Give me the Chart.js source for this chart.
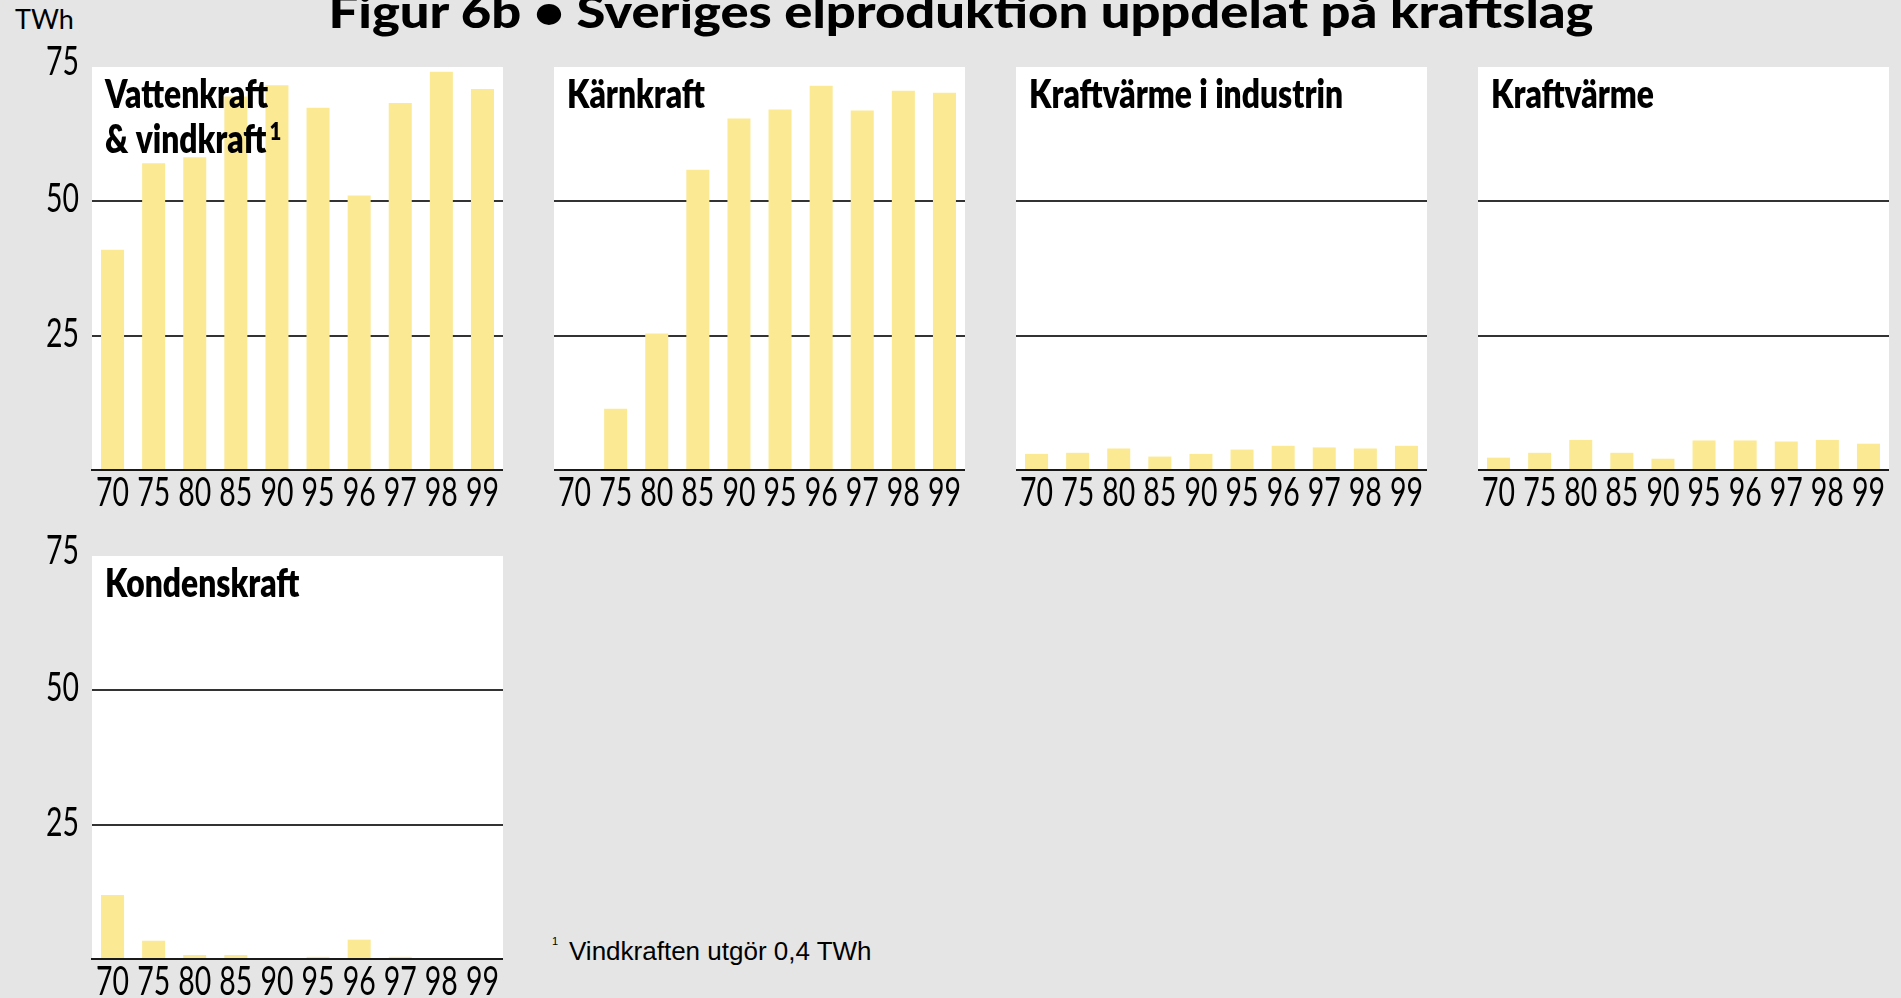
<!DOCTYPE html>
<html lang="sv">
<head>
<meta charset="utf-8">
<title>Figur 6b</title>
<script src="https://cdn.jsdelivr.net/npm/chart.js@4.4.1/dist/chart.umd.min.js"></script>
<style>
  html, body { margin: 0; padding: 0; }
  body {
    width: 1901px; height: 998px; overflow: hidden; position: relative;
    background: #e5e5e5; color: #000;
    font-family: Lato, 'Liberation Sans', sans-serif;
  }
  canvas { position: absolute; }
  .txt { position: absolute; white-space: nowrap; line-height: 1.2; }
  .bl { display: inline-block; width: 0; height: 0; vertical-align: baseline; }
  #titel { font-weight: 900; font-size: 46px; transform-origin: 50% 50%; }
  #enhet { font-size: 27px; }
  #fotnot { font-family: 'Liberation Sans', sans-serif; font-size: 26px; }
  #fotnr { font-family: 'Liberation Sans', sans-serif; font-size: 11px; }
</style>
</head>
<body>
<div class="txt" id="titel">Figur 6b • Sveriges elproduktion uppdelat på kraftslag<span class="bl"></span></div>
<div class="txt" id="enhet">TWh<span class="bl"></span></div>
<div class="txt" id="fotnr">1<span class="bl"></span></div>
<div class="txt" id="fotnot">Vindkraften utgör 0,4 TWh<span class="bl"></span></div>

<script>
// -------------------------
// Data (TWh)
// -------------------------
const ar = ['70', '75', '80', '85', '90', '95', '96', '97', '98', '99'];

const vattenkraft        = [41.0, 57.1, 58.2, 69.5, 71.6, 67.4, 51.1, 68.3, 74.1, 70.9];
const karnkraft          = [0, 11.4, 25.4, 55.9, 65.4, 67.1, 71.5, 66.9, 70.6, 70.2];
const kraftvarmeIndustri = [3.0, 3.2, 4.0, 2.5, 3.0, 3.8, 4.5, 4.2, 4.0, 4.5];
const kraftvarme         = [2.3, 3.2, 5.6, 3.2, 2.1, 5.5, 5.5, 5.3, 5.6, 4.9];
const kondenskraft       = [11.9, 3.4, 0.75, 0.75, 0.2, 0.4, 3.6, 0.4, 0.2, 0.2];

const yMax = 75;
const yTicks = [25, 50, 75];

// -------------------------
// Layout
// -------------------------
const PANEL_X = [92, 554, 1016, 1478];
const PANEL_Y = [67, 556];
const PANEL_W = 411;
const PANEL_H = 403;
const PAD_TOP = 30;
const X_H = 50;
const Y_W = 92;

const GUL = 'rgb(251, 233, 148)';
const TICK_FONT = '400 40px Lato, "Liberation Sans", sans-serif';
const RUBRIK_FONT = '800 39px Lato, "Liberation Sans", sans-serif';
const FOT_FONT = '800 25px Lato, "Liberation Sans", sans-serif';

const paneler = [
  { rubrik: ['Vattenkraft', '& vindkraft'], fot: '1', data: vattenkraft, kol: 0, rad: 0 },
  { rubrik: ['Kärnkraft'], data: karnkraft, kol: 1, rad: 0 },
  { rubrik: ['Kraftvärme i industrin'], data: kraftvarmeIndustri, kol: 2, rad: 0 },
  { rubrik: ['Kraftvärme'], data: kraftvarme, kol: 3, rad: 0 },
  { rubrik: ['Kondenskraft'], data: kondenskraft, kol: 0, rad: 1 }
];

// texten i förlagan är smal, så den pressas ihop i sidled
function smalFaktor(ctx, font, prov, bredd) {
  ctx.font = font;
  return bredd / ctx.measureText(prov).width;
}

// vit bakgrund i diagramytan
const vitYta = {
  id: 'vitYta',
  beforeDraw(chart) {
    const { ctx, chartArea: a } = chart;
    ctx.save();
    ctx.fillStyle = '#fff';
    ctx.fillRect(a.left, a.top, a.right - a.left, a.bottom - a.top);
    ctx.restore();
  }
};

// rubrik inne i panelen
const panelRubrik = {
  id: 'panelRubrik',
  afterDatasetsDraw(chart, args, opts) {
    const { ctx, chartArea: a } = chart;
    ctx.save();
    const k = smalFaktor(ctx, RUBRIK_FONT, 'Kärnkraft', 138);
    ctx.fillStyle = '#000';
    ctx.textBaseline = 'alphabetic';
    ctx.textAlign = 'left';
    opts.rader.forEach((t, i) => {
      const x = a.left + 13;
      const y = a.top + 41 + i * 45;
      ctx.font = RUBRIK_FONT;
      const w = ctx.measureText(t).width * k;
      ctx.save();
      ctx.translate(x, y);
      ctx.scale(k, 1);
      ctx.fillText(t, 0, 0);
      ctx.restore();
      if (opts.fot && i === opts.rader.length - 1) {
        ctx.save();
        ctx.font = FOT_FONT;
        ctx.translate(x + w + 3, y - 13);
        ctx.scale(k, 1);
        ctx.fillText(opts.fot, 0, 0);
        ctx.restore();
      }
    });
    ctx.restore();
  }
};

// axeltexter, placerade via skalorna
const axelText = {
  id: 'axelText',
  afterDraw(chart, args, opts) {
    const { ctx, chartArea: a, scales: { x, y } } = chart;
    ctx.save();
    const k = smalFaktor(ctx, TICK_FONT, '80', 33);
    ctx.font = TICK_FONT;
    ctx.fillStyle = '#000';
    ctx.textBaseline = 'alphabetic';
    ctx.textAlign = 'center';
    x.ticks.forEach((t, i) => {
      ctx.save();
      ctx.translate(x.getPixelForTick(i), a.bottom + 36);
      ctx.scale(k, 1);
      ctx.fillText(chart.data.labels[i], 0, 0);
      ctx.restore();
    });
    if (opts.visaY) {
      ctx.textAlign = 'right';
      yTicks.forEach(v => {
        ctx.save();
        ctx.translate(a.left - 13, y.getPixelForValue(v) + 14 - (v === yMax ? 6 : 3));
        ctx.scale(k, 1);
        ctx.fillText(String(v), 0, 0);
        ctx.restore();
      });
    }
    ctx.restore();
  }
};

function skapaDiagram(p) {
  const visaY = p.kol === 0;
  const yW = visaY ? Y_W : 0;

  const canvas = document.createElement('canvas');
  canvas.width = PANEL_W + yW;
  canvas.height = PAD_TOP + PANEL_H + X_H;
  canvas.style.left = (PANEL_X[p.kol] - yW) + 'px';
  canvas.style.top = (PANEL_Y[p.rad] - PAD_TOP) + 'px';
  document.body.appendChild(canvas);

  new Chart(canvas, {
    type: 'bar',
    data: {
      labels: ar,
      datasets: [{
        data: p.data,
        backgroundColor: GUL,
        barPercentage: 0.56,
        categoryPercentage: 1
      }]
    },
    options: {
      responsive: false,
      animation: false,
      layout: { padding: { top: PAD_TOP, left: 0, right: 0, bottom: 0 } },
      plugins: {
        legend: { display: false },
        tooltip: { enabled: false },
        panelRubrik: { rader: p.rubrik, fot: p.fot },
        axelText: { visaY: visaY }
      },
      scales: {
        x: {
          grid: { display: false },
          border: { display: true, color: '#1a1a1a', width: 2 },
          ticks: { display: false },
          afterFit: s => { s.height = X_H; }
        },
        y: {
          min: 0,
          max: yMax,
          border: { display: false },
          grid: {
            drawTicks: false,
            lineWidth: 2,
            color: c => (c.tick && yTicks.includes(c.tick.value) && c.tick.value < yMax) ? '#333' : 'rgba(0,0,0,0)'
          },
          ticks: { display: false, stepSize: 25 },
          afterFit: s => { s.width = yW; }
        }
      }
    },
    plugins: [vitYta, panelRubrik, axelText]
  });
}

paneler.forEach(skapaDiagram);

// -------------------------
// HTML-texter: baslinje och läge från förlagan
// -------------------------
function placera(id, baslinje, vanster) {
  const el = document.getElementById(id);
  const b = el.querySelector('.bl').offsetTop;
  el.style.top = (baslinje - b) + 'px';
  el.style.left = vanster + 'px';
}

const titel = document.getElementById('titel');
const titelBredd = titel.getBoundingClientRect().width;
titel.style.transform = 'scaleX(' + (1265 / titelBredd) + ')';
placera('titel', 28, 961 - titelBredd / 2);
placera('enhet', 29, 15);
placera('fotnr', 945, 552);
placera('fotnot', 960, 569);
</script>
</body>
</html>
